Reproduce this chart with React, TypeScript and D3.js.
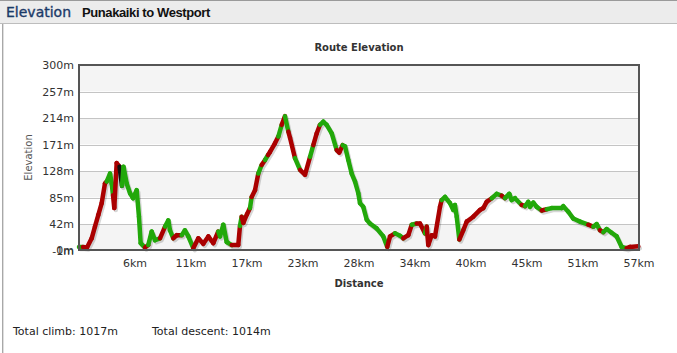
import React from 'react';
import * as d3 from 'd3';

const distanceKm = [0,0.40,0.81,1.28,1.61,1.95,2.29,2.62,2.79,3.13,3.30,3.43,3.56,3.80,4.09,4.34,4.49,4.81,5.15,5.45,5.82,6.05,6.22,6.66,6.99,7.33,7.67,8.17,8.68,9.01,9.18,9.51,9.86,10.36,10.69,11.03,11.53,12.04,12.54,13.05,13.55,14.05,14.23,14.56,14.90,15.41,16.07,16.24,16.41,16.58,16.95,17.25,17.42,17.76,18.09,18.43,18.77,19.07,19.27,19.77,20.11,20.45,20.78,21.12,21.29,21.79,22.30,22.80,23.31,23.64,23.98,24.31,24.65,24.99,25.50,26.00,26.26,26.60,26.84,27.17,27.51,27.85,28.18,28.35,28.68,29.03,29.36,30.03,30.70,31.10,31.38,31.88,32.39,32.72,33.22,33.57,34.07,34.40,34.91,35.08,35.24,35.58,35.92,36.42,36.59,36.93,37.43,37.76,37.93,38.11,38.37,38.77,39.12,39.78,40.46,40.79,41.13,41.64,42.14,42.65,42.98,43.41,43.65,43.99,44.66,45.00,45.33,45.50,45.84,46.18,46.68,47.19,47.69,48.70,48.86,49.37,49.87,50.55,51.38,51.89,52.23,52.56,52.90,53.24,53.74,54.25,54.75,55.26,55.59,56.43];

const elevationM = [5,5,4,19,38,57,76,108,111,124,108,89,68,141,135,104,135,108,92,84,97,54,11,4,8,30,16,19,38,48,32,19,24,24,32,22,3,19,10,22,11,30,22,41,13,8,8,39,54,44,58,68,86,97,124,138,146,154,159,173,184,203,217,192,182,149,130,122,151,170,189,203,208,203,189,162,158,170,168,146,124,111,92,76,70,49,43,35,22,5,22,27,23,19,24,41,43,43,27,38,8,24,22,70,81,86,76,65,73,54,17,32,46,54,65,68,78,84,91,88,84,91,81,84,73,71,78,70,77,70,64,66,68,68,71,62,51,46,41,38,42,32,29,34,28,22,5,3,5,6];

// grade class of the segment ending at each point: r = climbing, g = descending/flat, k = steep
const gradeCodes = [
  '-', 'g', 'rrrrr', 'rr', 'ggg', 'rrr', 'k', 'gggggggg', 'r', 'ggg', 'r', 'ggg', 'rr', 'ggg', 'rrrrr', 'gggg',
  'rr', 'g', 'rrr', 'g', 'rr', 'g', 'r', 'g', 'rrr', 'g', 'r', 'g', 'rr', 'g', 'rr', 'g', 'rr', 'gggg', 'rr',
  'gggggggggggg', 'rr', 'gg', 'rr', 'g', 'rr', 'g', 'rrrrr', 'gggggg', 'rrrrrrr', 'gg', 'r', 'gggg', 'r', 'ggggg',
  'r', 'ggggggg', 'r', 'gg', 'r', 'ggggg', 'rr'
].join('').split('');

const yTicks = [300, 257, 214, 171, 128, 85, 42, 0];
const xTickLabels = ['6km', '11km', '17km', '23km', '28km', '34km', '40km', '45km', '51km', '57km'];
const totalKm = 56.5;

const gradeColor: Record<string, string> = { r: '#aa0000', g: '#22a80a', k: '#111111' };

export default function App() {
  const W = 677, H = 353;
  const x0 = 79, x1 = 639, yTop = 65, yBot = 250;
  const x = d3.scaleLinear().domain([0, totalKm]).range([x0, x1]);
  const y = d3.scaleLinear().domain([0, 300]).range([yBot, yTop]);
  const font = 'DejaVu Sans, Verdana, sans-serif';

  const pts = distanceKm.map((d, i) => [x(d), y(elevationM[i])] as [number, number]);
  const line = d3.line();
  const segs = [] as { d: string; c: string }[];
  for (let i = 1; i < pts.length; i++) {
    const code = gradeCodes[i] || 'g';
    segs.push({ d: line([pts[i - 1], pts[i]]) as string, c: gradeColor[code] || gradeColor.g });
  }
  const fullPath = line(pts) as string;

  const xTickPos = xTickLabels.map((_, i) => x((totalKm * (i + 1)) / xTickLabels.length));

  return (
    <svg width={W} height={H} style={{ position: 'absolute', left: 0, top: 0, background: '#fff' }}>
      {/* header */}
      <rect x={0} y={0} width={W} height={23} fill="#ececec" />
      <line x1={0} x2={W} y1={0.5} y2={0.5} stroke="#9a9a9a" />
      <line x1={0} x2={W} y1={23.5} y2={23.5} stroke="#bdbdbd" />
      <line x1={2.5} x2={2.5} y1={24} y2={H} stroke="#a8a8a8" />
      <line x1={3.5} x2={3.5} y1={24} y2={H} stroke="#dedede" />
      <text x={6} y={17} fontFamily={font} fontSize={14} fill="#1b3a68" stroke="#1b3a68" strokeWidth={0.35}>Elevation</text>
      <text x={82} y={17} fontFamily="Liberation Sans, Arial, sans-serif" fontSize={13} fontWeight="bold" fill="#111" letterSpacing={-0.4}>Punakaiki to Westport</text>

      {/* title */}
      <text x={(x0 + x1) / 2} y={51} textAnchor="middle" fontFamily={font} fontSize={10} fontWeight="bold" fill="#333">Route Elevation</text>

      {/* bands */}
      {yTicks.slice(0, -1).map((t, i) => (
        <rect key={'b' + t} x={x0} y={y(t)} width={x1 - x0} height={y(yTicks[i + 1]) - y(t)} fill={i % 2 === 0 ? '#f4f4f4' : '#ffffff'} />
      ))}
      {yTicks.slice(1, -1).map(t => (
        <line key={'g' + t} x1={x0} x2={x1} y1={Math.round(y(t)) + 0.5} y2={Math.round(y(t)) + 0.5} stroke="#c4c4c4" />
      ))}

      {/* y labels */}
      {yTicks.map(t => (
        <text key={'yl' + t} x={74} y={y(t) + 4} textAnchor="end" fontFamily={font} fontSize={11} fill="#333">{t + 'm'}</text>
      ))}
      <text x={74} y={y(-1) + 4} textAnchor="end" fontFamily={font} fontSize={11} fill="#333">-1m</text>
      <text transform={`translate(32, ${(yTop + yBot) / 2}) rotate(-90)`} textAnchor="middle" fontFamily={font} fontSize={10} fill="#555">Elevation</text>

      {/* x labels */}
      {xTickLabels.map((l, i) => (
        <text key={'xl' + l} x={xTickPos[i]} y={267} textAnchor="middle" fontFamily={font} fontSize={11} fill="#333">{l}</text>
      ))}
      <text x={(x0 + x1) / 2} y={287} textAnchor="middle" fontFamily={font} fontSize={10} fontWeight="bold" fill="#333">Distance</text>

      {/* line shadow */}
      <path d={fullPath} transform="translate(1.5,2)" fill="none" stroke="rgba(0,0,0,0.16)" strokeWidth={4.5} strokeLinejoin="round" strokeLinecap="round" />
      {segs.map((s, i) => (
        <path key={'s' + i} d={s.d} fill="none" stroke={s.c} strokeWidth={4.5} strokeLinecap="round" />
      ))}

      {/* frame */}
      <rect x={x0} y={yTop} width={x1 - x0} height={yBot - yTop} fill="none" stroke="#555" strokeWidth={2} />

      {/* footer */}
      <text x={13} y={335} fontFamily={font} fontSize={11} fill="#222">Total climb: 1017m</text>
      <text x={152} y={335} fontFamily={font} fontSize={11} fill="#222">Total descent: 1014m</text>
    </svg>
  );
}
